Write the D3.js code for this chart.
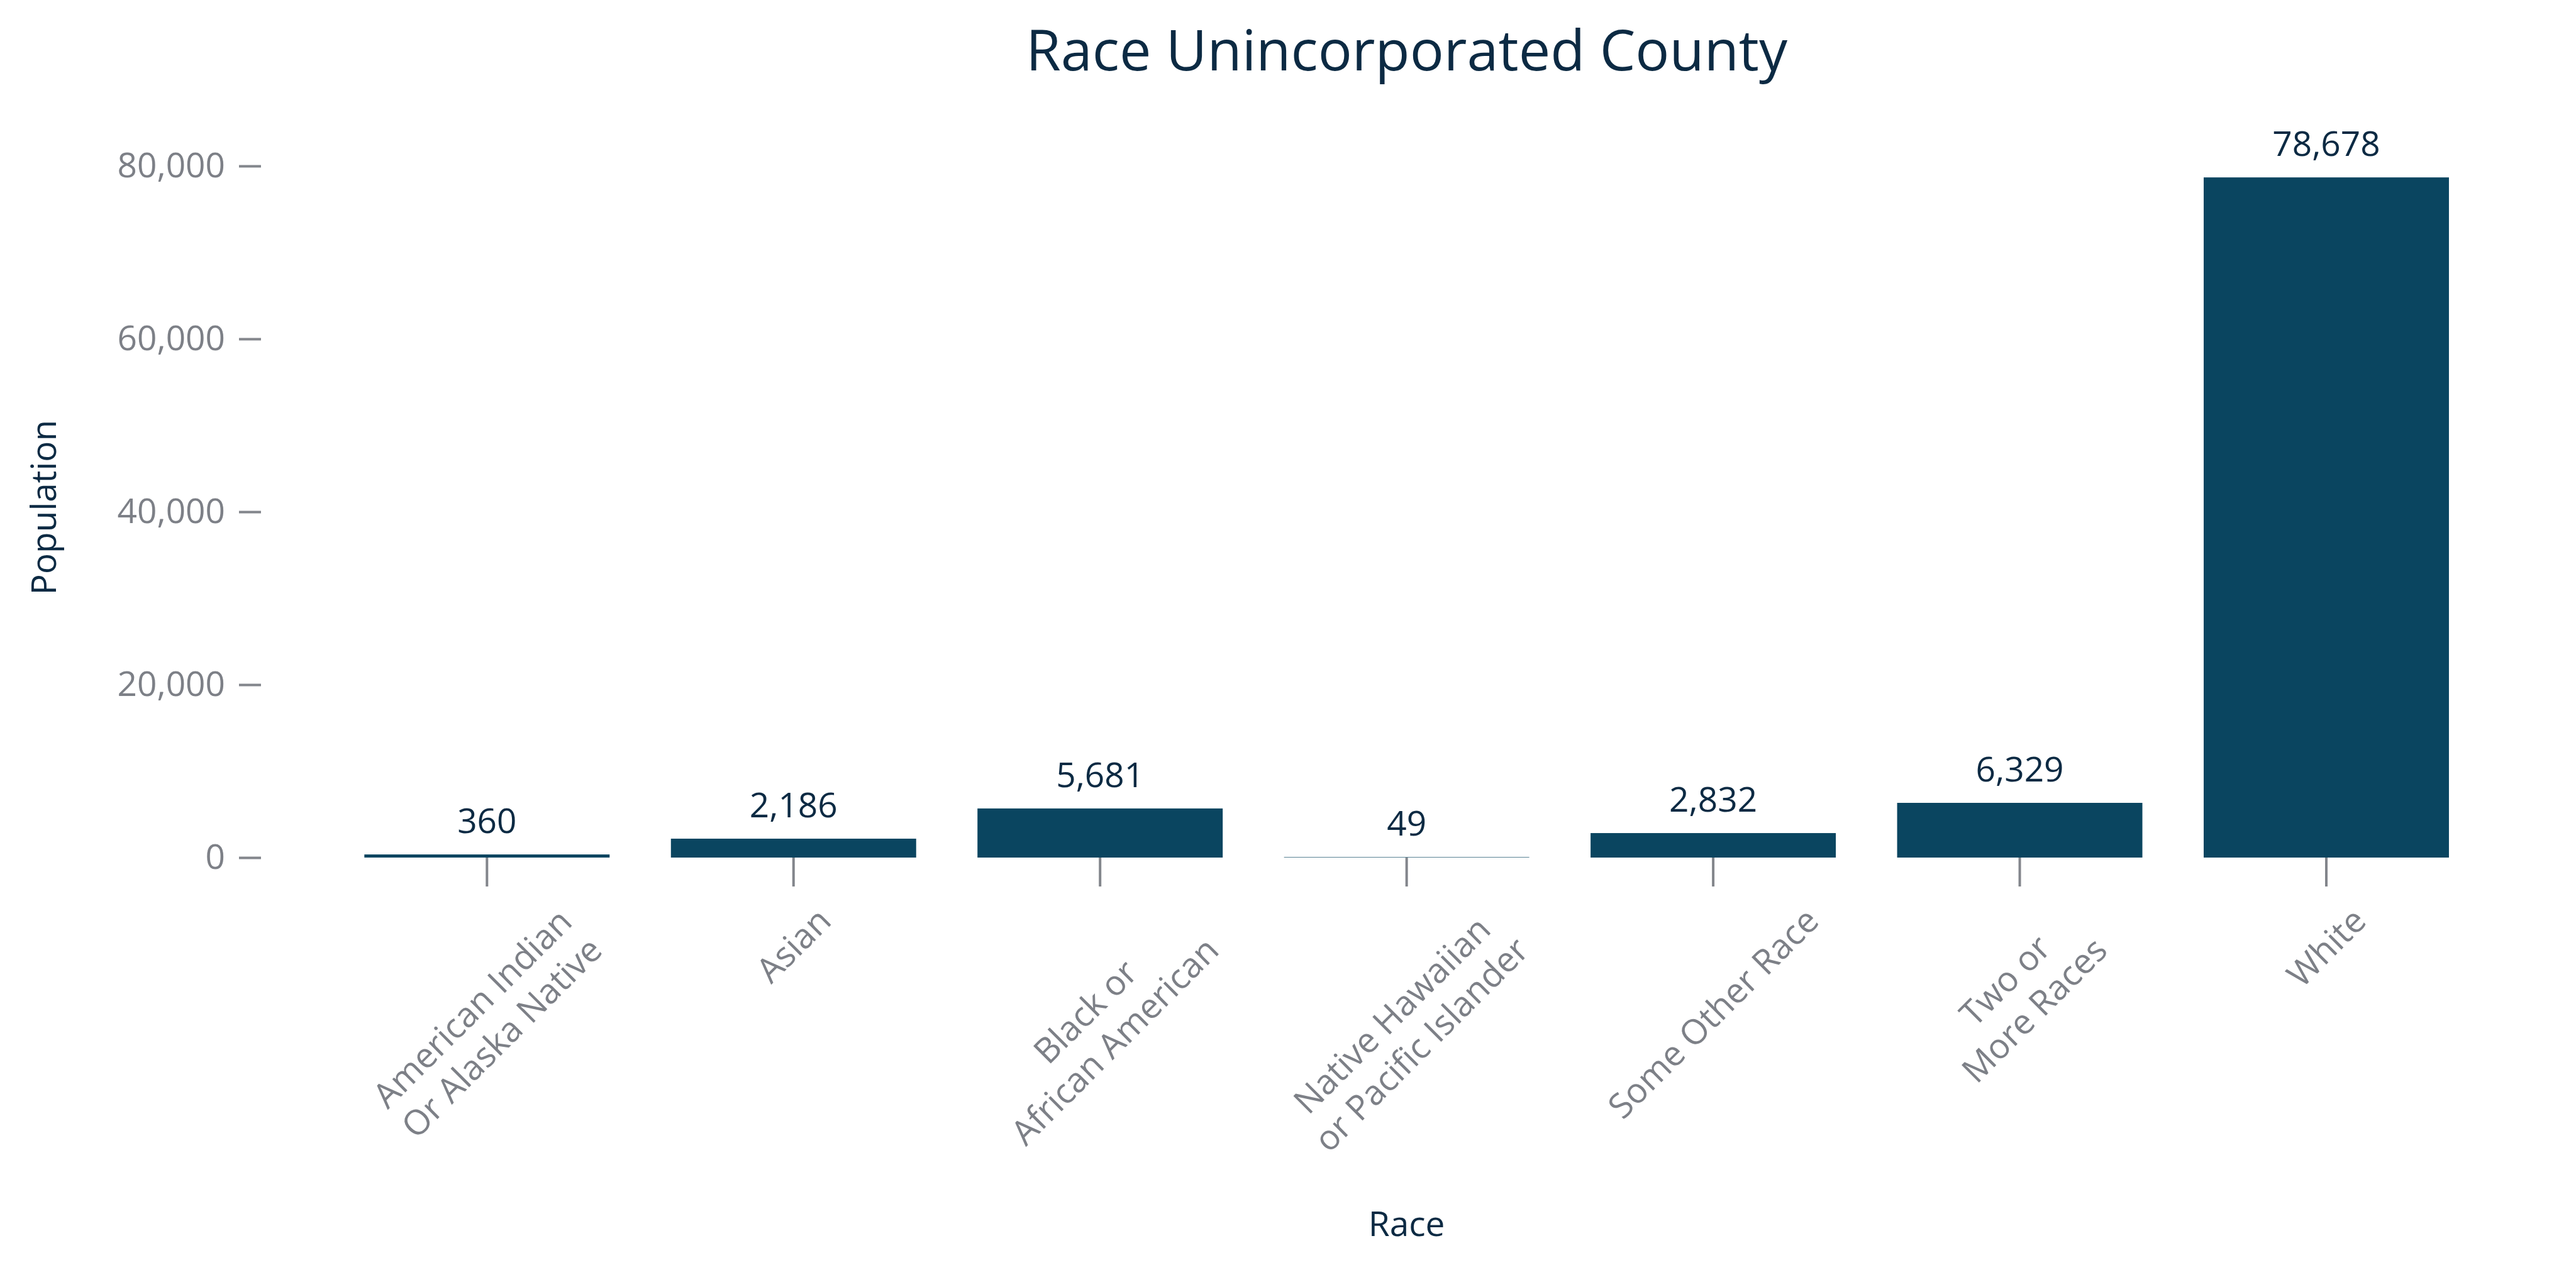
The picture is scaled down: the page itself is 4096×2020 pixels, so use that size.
<!DOCTYPE html>
<html>
<head>
<meta charset="utf-8">
<script src="https://cdn.jsdelivr.net/npm/d3@7"></script>
<style>
  html, body { margin: 0; padding: 0; background: #ffffff; }
  svg { display: block; font-family: "Open Sans", sans-serif; }
</style>
</head>
<body>
<svg id="chart" width="4096" height="2020"></svg>
<script>
// ---- data ----
const categories = [
  "American Indian Or Alaska Native",
  "Asian",
  "Black or African American",
  "Native Hawaiian or Pacific Islander",
  "Some Other Race",
  "Two or More Races",
  "White"
];
const tickLabelLines = [
  ["American Indian", "Or Alaska Native"],
  ["Asian"],
  ["Black or", "African American"],
  ["Native Hawaiian", "or Pacific Islander"],
  ["Some Other Race"],
  ["Two or", "More Races"],
  ["White"]
];
const values = [360, 2186, 5681, 49, 2832, 6329, 78678];
const yTicks = [0, 20000, 40000, 60000, 80000];
const titleText = "Race Unincorporated County";
const xTitle = "Race";
const yTitle = "Population";

// ---- styling ----
const barColor = "#0a4560";
const darkText = "#0c2a43";
const grayText = "#7d8087";
const tickColor = "#83868c";
const fs = 55;

const svg = d3.select("#chart");

const x = d3.scaleBand()
  .domain(categories)
  .range([530.6, 3942.7])
  .paddingInner(0.2)
  .paddingOuter(0.1);

const y = d3.scaleLinear()
  .domain([0, 80000])
  .range([1364, 264]);

// Title
svg.append("text")
  .attr("x", (x.range()[0] + x.range()[1]) / 2)
  .attr("y", 112)
  .attr("text-anchor", "middle")
  .attr("font-size", 90)
  .attr("fill", darkText)
  .text(titleText);

// Y axis
const yAxis = d3.axisLeft(y)
  .tickValues(yTicks)
  .tickSize(35)
  .tickSizeOuter(0)
  .tickPadding(22)
  .tickFormat(d3.format(","));
const gy = svg.append("g")
  .attr("transform", "translate(415,0)")
  .call(yAxis);
gy.select(".domain").remove();
gy.selectAll(".tick line").attr("stroke", tickColor).attr("stroke-width", 4);
gy.selectAll(".tick text")
  .attr("fill", grayText)
  .attr("font-size", fs)
  .attr("font-family", "Open Sans, sans-serif");

// X axis ticks
const xAxis = d3.axisBottom(x).tickSize(46).tickSizeOuter(0).tickFormat("");
const gx = svg.append("g")
  .attr("transform", "translate(0,1364)")
  .call(xAxis);
gx.select(".domain").remove();
gx.selectAll(".tick line").attr("stroke", tickColor).attr("stroke-width", 4);
gx.selectAll(".tick text").remove();

// Bars
svg.append("g")
  .selectAll("rect")
  .data(values)
  .join("rect")
  .attr("x", (d, i) => x(categories[i]))
  .attr("width", x.bandwidth())
  .attr("y", d => y(d))
  .attr("height", d => y(0) - y(d))
  .attr("fill", barColor);

// Value labels
svg.append("g")
  .selectAll("text")
  .data(values)
  .join("text")
  .attr("x", (d, i) => x(categories[i]) + x.bandwidth() / 2)
  .attr("y", d => y(d) - 34)
  .attr("text-anchor", "middle")
  .attr("font-size", fs)
  .attr("fill", darkText)
  .text(d => d3.format(",")(d));

// Rotated category labels
const lineH = 66;
const labelTop = 1431;
const lg = svg.append("g");
categories.forEach((c, i) => {
  const lines = tickLabelLines[i];
  const n = lines.length;
  const g = lg.append("g");
  const t = g.append("text")
    .attr("text-anchor", "middle")
    .attr("font-size", fs)
    .attr("fill", grayText);
  const spans = lines.map((ln, k) =>
    t.append("tspan")
      .attr("x", 0)
      .attr("y", (k - (n - 1) / 2) * lineH)
      .attr("dy", "0.35em")
      .text(ln));
  const W = d3.max(spans, s => s.node().getComputedTextLength());
  const H = n * lineH;
  const cx = x(c) + x.bandwidth() / 2;
  const cy = labelTop + Math.SQRT1_2 * (W + H) / 2;
  g.attr("transform", `translate(${cx},${cy}) rotate(-45)`);
});

// Axis titles
svg.append("text")
  .attr("x", (x.range()[0] + x.range()[1]) / 2)
  .attr("y", 1966)
  .attr("text-anchor", "middle")
  .attr("font-size", fs)
  .attr("fill", darkText)
  .text(xTitle);

svg.append("text")
  .attr("transform", "translate(89,807) rotate(-90)")
  .attr("text-anchor", "middle")
  .attr("font-size", fs)
  .attr("fill", darkText)
  .text(yTitle);
</script>
</body>
</html>
